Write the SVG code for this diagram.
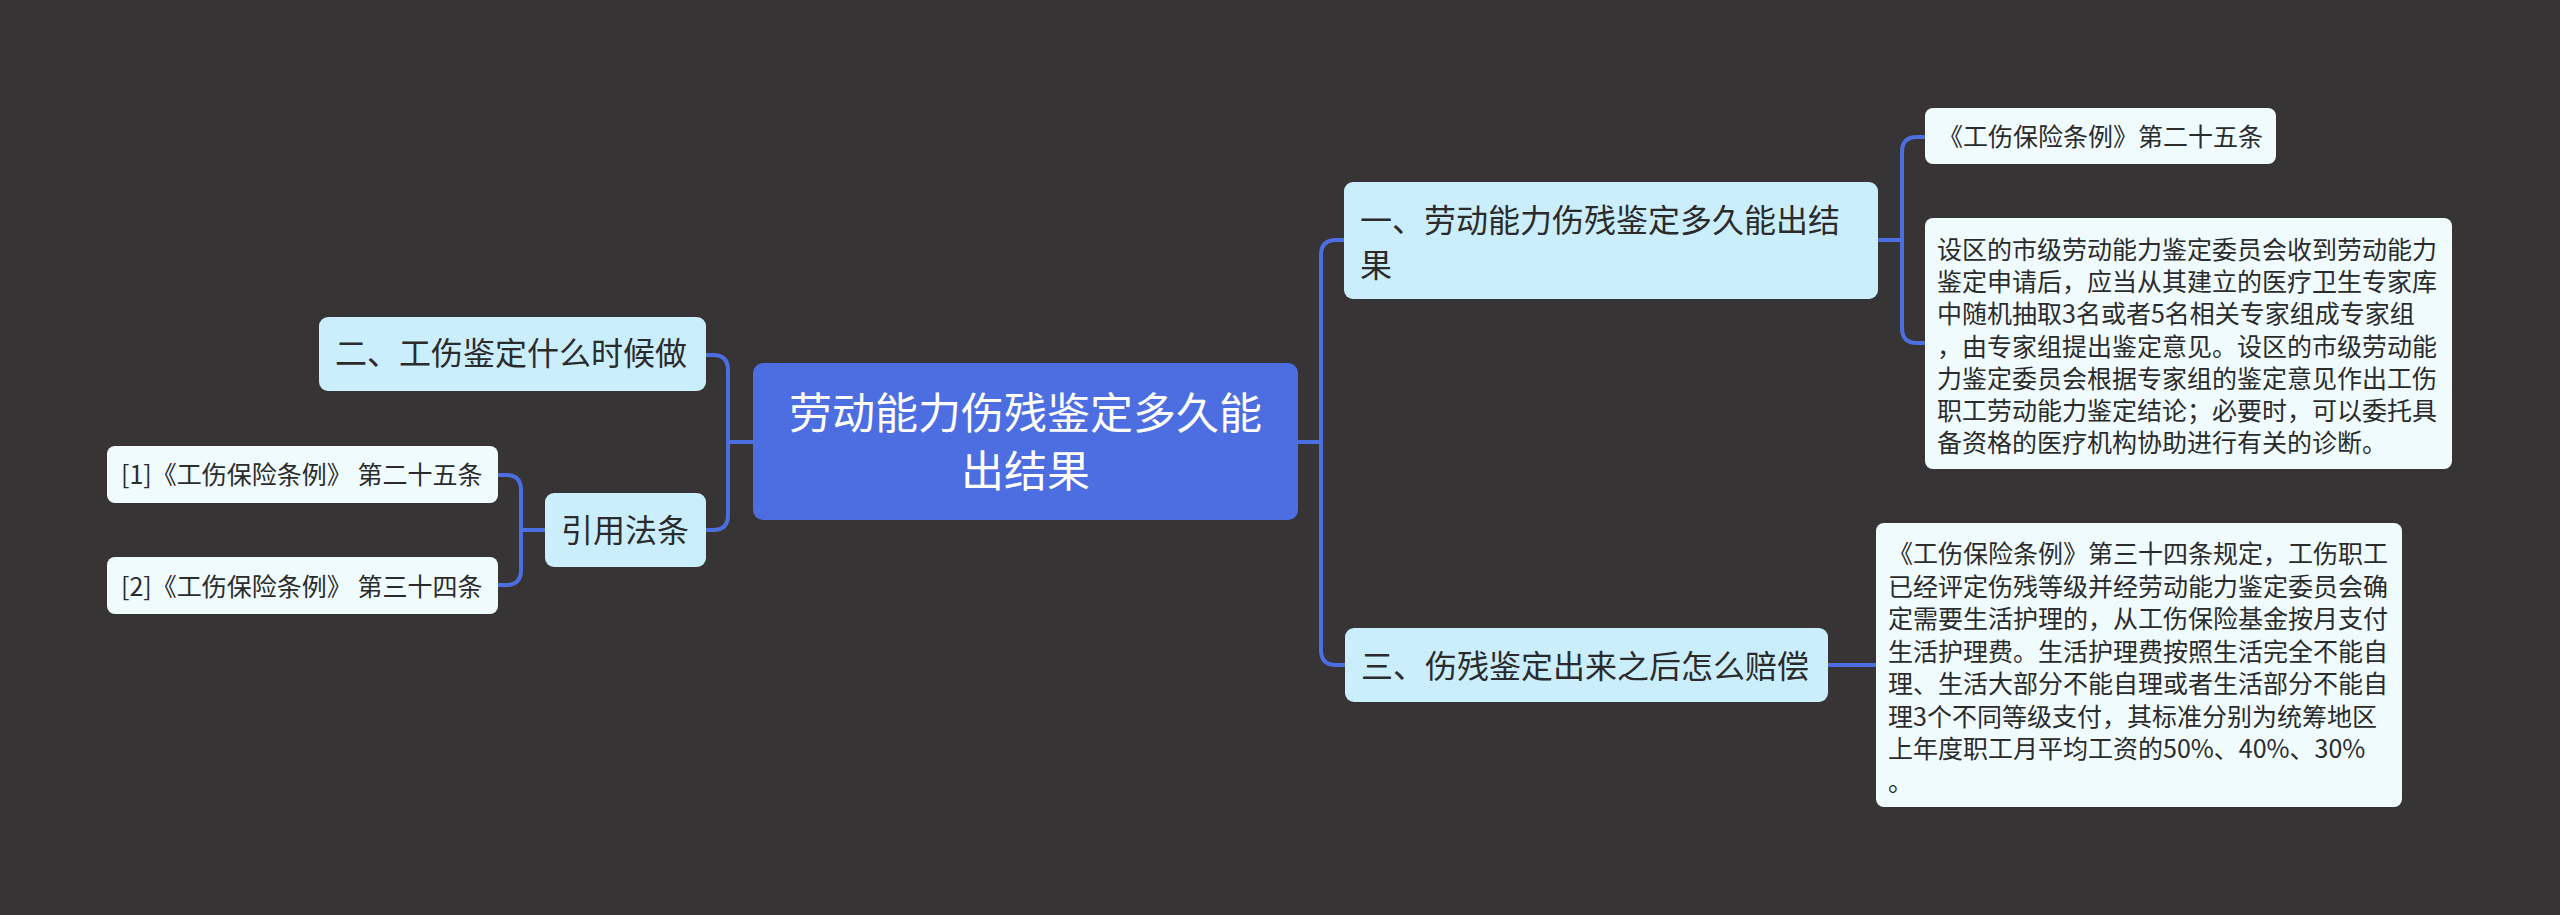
<svg xmlns="http://www.w3.org/2000/svg" width="2560" height="915" viewBox="0 0 2560 915">
<style>
.root{fill:#4c6ee0}
.br{fill:#cbeefd}
.lf{fill:#f0fbfe}
.t{font-family:"Noto Sans CJK SC","Noto Sans",sans-serif;fill:#2b2b2b}
.rt{font-family:"Noto Sans CJK SC","Noto Sans",sans-serif;fill:#ffffff;font-size:43px}
.bt{font-size:32px}
.lt{font-size:25px}
.c{fill:none;stroke:#4c6ee0;stroke-width:4;stroke-linecap:butt}
</style>
<rect width="2560" height="915" fill="#363435"/>
<g id="connectors">
<path class="c" d="M753,442 H728"/>
<path class="c" d="M706,355 H713 Q728,355 728,370 V515 Q728,530 713,530 H706"/>
<path class="c" d="M545,530 H521"/>
<path class="c" d="M498,475 H506 Q521,475 521,490 V570 Q521,585 506,585 H498"/>
<path class="c" d="M1298,442 H1321"/>
<path class="c" d="M1344,240 H1336 Q1321,240 1321,255 V650 Q1321,665 1336,665 H1345"/>
<path class="c" d="M1878,240 H1902"/>
<path class="c" d="M1925,137 H1917 Q1902,137 1902,152 V328 Q1902,343 1917,343 H1925"/>
<path class="c" d="M1828,665 H1876"/>
</g>
<g id="root">
<rect class="root" x="753" y="363" width="545" height="157" rx="10"/>
<text class="rt" x="1025.5" y="428.5" text-anchor="middle">劳动能力伤残鉴定多久能</text>
<text class="rt" x="1025.5" y="486.5" text-anchor="middle">出结果</text>
</g>
<g id="branch1">
<rect class="br" x="1344" y="182" width="534" height="117" rx="9"/>
<text class="t bt" x="1360" y="231.5">一、劳动能力伤残鉴定多久能出结</text>
<text class="t bt" x="1360" y="276.5">果</text>
</g>
<g id="leaf1">
<rect class="lf" x="1925" y="108" width="351" height="56" rx="8"/>
<text class="t lt" x="1938" y="146">《工伤保险条例》第二十五条</text>
</g>
<g id="leaf2">
<rect class="lf" x="1925" y="218" width="527" height="251" rx="8"/>
<text class="t lt" x="1937" y="259">设区的市级劳动能力鉴定委员会收到劳动能力</text>
<text class="t lt" x="1937" y="291.2">鉴定申请后，应当从其建立的医疗卫生专家库</text>
<text class="t lt" x="1937" y="323.4">中随机抽取3名或者5名相关专家组成专家组</text>
<text class="t lt" x="1937" y="355.6">，由专家组提出鉴定意见。设区的市级劳动能</text>
<text class="t lt" x="1937" y="387.8">力鉴定委员会根据专家组的鉴定意见作出工伤</text>
<text class="t lt" x="1937" y="420">职工劳动能力鉴定结论；必要时，可以委托具</text>
<text class="t lt" x="1937" y="452.2">备资格的医疗机构协助进行有关的诊断。</text>
</g>
<g id="branch2">
<rect class="br" x="319" y="317" width="387" height="74" rx="9"/>
<text class="t bt" x="335" y="364.5">二、工伤鉴定什么时候做</text>
</g>
<g id="ref">
<rect class="br" x="545" y="493" width="161" height="74" rx="9"/>
<text class="t bt" x="561" y="541.5">引用法条</text>
</g>
<g id="ref1">
<rect class="lf" x="107" y="446" width="391" height="57" rx="8"/>
<text class="t lt" x="121" y="484">[1]《工伤保险条例》 第二十五条</text>
</g>
<g id="ref2">
<rect class="lf" x="107" y="557" width="391" height="57" rx="8"/>
<text class="t lt" x="121" y="596">[2]《工伤保险条例》 第三十四条</text>
</g>
<g id="branch3">
<rect class="br" x="1345" y="628" width="483" height="74" rx="9"/>
<text class="t bt" x="1361" y="677.5">三、伤残鉴定出来之后怎么赔偿</text>
</g>
<g id="leaf3">
<rect class="lf" x="1876" y="523" width="526" height="284" rx="8"/>
<text class="t lt" x="1888" y="563">《工伤保险条例》第三十四条规定，工伤职工</text>
<text class="t lt" x="1888" y="595.5">已经评定伤残等级并经劳动能力鉴定委员会确</text>
<text class="t lt" x="1888" y="628">定需要生活护理的，从工伤保险基金按月支付</text>
<text class="t lt" x="1888" y="660.5">生活护理费。生活护理费按照生活完全不能自</text>
<text class="t lt" x="1888" y="693">理、生活大部分不能自理或者生活部分不能自</text>
<text class="t lt" x="1888" y="725.5">理3个不同等级支付，其标准分别为统筹地区</text>
<text class="t lt" x="1888" y="758">上年度职工月平均工资的50%、40%、30%</text>
<text class="t lt" x="1888" y="790.5">。</text>
</g>
</svg>
